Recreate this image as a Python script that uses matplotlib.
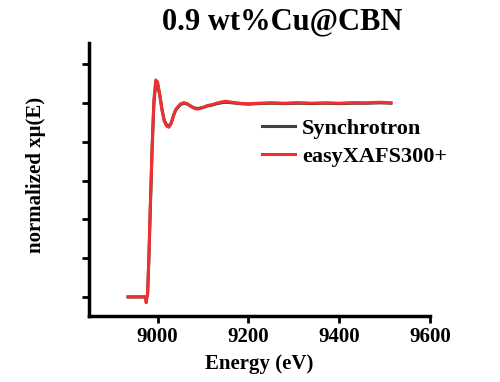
import matplotlib.pyplot as plt
import numpy as np

# energy grid (eV) and normalized absorption
energy = [8935, 8950, 8965, 8972, 8975, 8978, 8981, 8984, 8988, 8992, 8996,
          9000, 9005, 9010, 9015, 9020, 9025, 9030, 9035, 9040, 9050, 9058,
          9065, 9075, 9082, 9090, 9100, 9110, 9120, 9130, 9140, 9150, 9160,
          9180, 9200, 9220, 9250, 9280, 9310, 9340, 9370, 9400, 9430, 9460,
          9490, 9514]

mu_easy = [0.0, 0.0, 0.0, 0.0, -0.03, 0.02, 0.22, 0.47, 0.78, 1.02, 1.12,
           1.11, 1.04, 0.96, 0.905, 0.882, 0.876, 0.895, 0.935, 0.968, 0.996, 1.003,
           0.998, 0.982, 0.972, 0.97, 0.978, 0.988, 0.993, 1.0, 1.006, 1.01, 1.006,
           1.0, 0.997, 1.0, 1.002, 1.0, 1.003, 1.0, 1.002, 1.0, 1.003, 1.002,
           1.005, 1.002]

mu_sync = [0.0, 0.0, 0.0, 0.0, -0.01, 0.01, 0.2, 0.45, 0.76, 1.0, 1.10,
           1.10, 1.04, 0.965, 0.91, 0.888, 0.882, 0.898, 0.935, 0.965, 0.992, 1.0,
           0.996, 0.982, 0.975, 0.973, 0.978, 0.986, 0.99, 0.997, 1.002, 1.005, 1.003,
           0.998, 0.995, 0.998, 1.0, 0.998, 1.0, 0.998, 1.0, 0.998, 1.0, 1.0,
           1.002, 1.0]

xticks = [9000, 9200, 9400, 9600]

plt.rcParams['font.family'] = ['Liberation Serif', 'DejaVu Serif']
plt.rcParams['font.weight'] = 'bold'

fig = plt.figure(figsize=(5, 3.82), dpi=100)
ax = fig.add_axes([0.178, 0.173, 0.682, 0.714])

ax.plot(energy, mu_sync, color='#404040', lw=2.2, label='Synchrotron')
ax.plot(energy, mu_easy, color='#f03030', lw=2.2, label='easyXAFS300+')

ax.set_xlim(8849, 9600)
ax.set_ylim(-0.098, 1.31)
ax.set_xticks(xticks)
ax.set_yticks(np.arange(0, 1.21, 0.2))
ax.set_yticklabels([])
ax.tick_params(axis='x', labelsize=15, width=2, length=5, direction='out', pad=3)
ax.tick_params(axis='y', width=2, length=5, direction='out')

for s in ['top', 'right']:
    ax.spines[s].set_visible(False)
for s in ['left', 'bottom']:
    ax.spines[s].set_linewidth(2.5)

ax.set_xlabel('Energy (eV)', fontsize=15, fontweight='bold')
ax.xaxis.set_label_coords(0.5, -0.139)
ax.set_ylabel('normalized xμ(E)', fontsize=15, fontweight='bold')
ax.yaxis.set_label_coords(-0.126, 0.516)
ax.set_title('0.9 wt%Cu@CBN', fontsize=22, fontweight='bold', pad=10, x=0.566)

leg = ax.legend(loc='upper left', bbox_to_anchor=(0.507, 0.725), frameon=False,
                fontsize=16, handlelength=1.5, handletextpad=0.3,
                labelspacing=0.35, borderpad=0, borderaxespad=0)

fig.savefig('out.png', dpi=100)
